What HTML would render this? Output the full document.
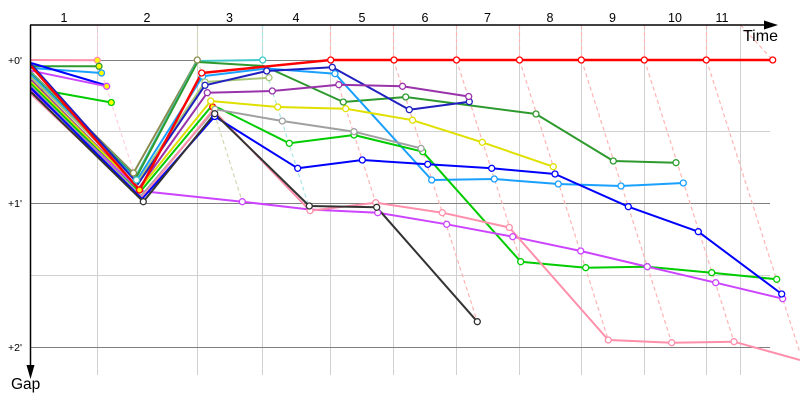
<!DOCTYPE html>
<html><head><meta charset="utf-8"><style>
html,body{margin:0;padding:0;background:#fff;}
svg{display:block;}
text{font-family:"Liberation Sans",sans-serif;}
</style></head><body>
<svg width="800" height="400" viewBox="0 0 800 400" xmlns="http://www.w3.org/2000/svg">
<rect width="800" height="400" fill="#fff"/>
<!-- grid -->
<g stroke="#d0d0d0" stroke-width="1">
<line x1="97.5" y1="25" x2="97.5" y2="375"/>
<line x1="197.5" y1="25" x2="197.5" y2="375"/>
<line x1="262.5" y1="25" x2="262.5" y2="375"/>
<line x1="330.5" y1="25" x2="330.5" y2="375"/>
<line x1="393.5" y1="25" x2="393.5" y2="375"/>
<line x1="456.5" y1="25" x2="456.5" y2="375"/>
<line x1="519.5" y1="25" x2="519.5" y2="375"/>
<line x1="581.5" y1="25" x2="581.5" y2="375"/>
<line x1="644.5" y1="25" x2="644.5" y2="375"/>
<line x1="706.5" y1="25" x2="706.5" y2="375"/>
<line x1="740.5" y1="25" x2="740.5" y2="375"/>
<line x1="30" y1="131.5" x2="770" y2="131.5"/>
<line x1="30" y1="275.5" x2="770" y2="275.5"/>
</g>
<g stroke="#808080" stroke-width="1">
<line x1="30" y1="60.5" x2="770" y2="60.5"/>
<line x1="30" y1="203.5" x2="770" y2="203.5"/>
<line x1="30" y1="347.5" x2="770" y2="347.5"/>
</g>
<!-- dashed lap lines -->
<g fill="none" stroke-width="1.2" stroke-dasharray="4 3">
<polyline stroke="#ffd0dc" points="97.5,25 97.5,60 134,173"/>
<polyline stroke="#d6d6b4" points="197.5,25 197.5,60 242.3,201.7"/>
<polyline stroke="#a8e6e6" points="262.5,25 262.5,60 310,210"/>
<polyline stroke="#ffb4b4" points="330.5,25 330.5,60 375.7,202.7"/>
<polyline stroke="#ffb4b4" points="393.5,25 393.5,60 477.3,321.7"/>
<polyline stroke="#ffb4b4" points="456.5,25 456.5,60 520.7,261.7"/>
<polyline stroke="#ffb4b4" points="519.5,25 519.5,60 608.3,340"/>
<polyline stroke="#ffb4b4" points="581.5,25 581.5,60 671.7,342.7"/>
<polyline stroke="#ffb4b4" points="644.5,25 644.5,60 734,341.7"/>
<polyline stroke="#ffb4b4" points="706.5,25 706.5,60 800,353"/>
<polyline stroke="#ffb4b4" points="740.5,25 772.7,60"/>
</g>
<!-- series -->
<g fill="none" stroke-width="2" stroke-linejoin="round">
<polyline stroke="#ff8fab" points="31,60 97.3,60.3"/>
<polyline stroke="#2e9a2e" points="31,66.3 99,66.3"/>
<polyline stroke="#1aa0ff" points="31,68 101.5,73"/>
<polyline stroke="#0000ff" points="31,63 105,85"/>
<polyline stroke="#cc44ff" points="31,70.7 106.7,86.3"/>
<polyline stroke="#00cc00" points="31,88 111.3,102.5"/>

<polyline stroke="#8c8c50" points="31,72 133.5,173 197.3,60"/>
<polyline stroke="#40c8c8" points="31,73 135.5,177 197.3,61 262.7,60"/>
<polyline stroke="#2e9a2e" points="31,74 136,178 197.5,62 264,66 343.3,102 405.7,97 536,114 613.3,161 676,162.7"/>
<polyline stroke="#1aa0ff" points="31,75 137,180 202.7,76.3 266.7,68.5 335,73.7 431.7,180 494.3,179 558.3,184 621,186 683.3,183"/>
<polyline stroke="#a8c878" points="31,77 137.5,182 205,82 269,77.7"/>
<polyline stroke="#2020c0" points="31,64 138,184 205,85.3 266.7,71 332.3,67.3 409.3,109.7 469.3,101.7"/>
<polyline stroke="#9933aa" points="31,80 139,188 207.3,92.7 272.3,91 338.8,84.7 402.5,86.3 468.7,96.5"/>
<polyline stroke="#e0e000" points="31,82 139.5,189 210.7,101 277.7,107 345.7,108.7 412.5,120.2 482.3,142.3 553.3,166.7"/>
<polyline stroke="#00cc00" points="31,84 140,192 212.5,105 289.3,143.3 354,135 422.7,151.7 520.7,261.7 585.7,267.7 647.3,266.7 711.7,272.7 776.7,279.3"/>
<polyline stroke="#cc44ff" points="31,90 141,191 242.3,201.7 309.5,209.5 377.7,212.7 446.7,224.3 512.7,236.7 580.7,251 647.3,266.7 715.7,282.7 782.7,298.7"/>
<polyline stroke="#a0a0a0" points="31,86 141,196 215,109.3 282.3,121 354,131.7 421,148.3"/>
<polyline stroke="#ff8fab" points="31,94 141.5,198 213,110 310,210.7 375.7,202.7 442.3,212.7 509.3,227.5 608.3,340 671.7,342.7 734,341.7 800,360"/>
<polyline stroke="#0000ff" points="31,88 142,199 214.7,116.5 297.7,168.3 362.3,160 427.7,164.3 491.7,168.3 555,174 628.3,206.7 698.3,231.7 781.7,294"/>
<polyline stroke="#333333" points="31,92 143.3,201.7 214.7,113.7 309.3,206 376.7,207.3 477.3,321.7"/>
<polyline stroke="#ff0000" stroke-width="2.4" points="31,66 139.5,190 201.7,73 330.7,60 394,60 456.5,60 519.5,60 581.3,60 644.3,60 706.3,60 772.7,60"/>
</g>
<!-- markers -->
<g fill="#ffff00" stroke-width="1.3">
<circle cx="97.3" cy="60.3" r="3" stroke="#ff8fab"/>
<circle cx="99" cy="66.3" r="3" stroke="#2e9a2e"/>
<circle cx="101.5" cy="73" r="3" stroke="#1aa0ff"/>
<circle cx="106.7" cy="86.3" r="3" stroke="#cc44ff"/>
<circle cx="111.3" cy="102.5" r="3" stroke="#00cc00"/>
<circle cx="139.5" cy="190" r="3" stroke="#ff0000"/>
<circle cx="212.7" cy="107" r="3" stroke="#ff0000"/>
</g>
<g fill="#fff" stroke-width="1.3">
<g stroke="#8c8c50"><circle cx="133.5" cy="173" r="3"/><circle cx="197.3" cy="60" r="3"/></g>
<g stroke="#40c8c8"><circle cx="136.5" cy="180" r="3"/><circle cx="262.7" cy="60" r="3"/></g>
<g stroke="#2e9a2e"><circle cx="343.3" cy="102" r="3"/><circle cx="405.7" cy="97" r="3"/><circle cx="536" cy="114" r="3"/><circle cx="613.3" cy="161" r="3"/><circle cx="676" cy="162.7" r="3"/></g>
<g stroke="#1aa0ff"><circle cx="202.7" cy="76.3" r="3"/><circle cx="335" cy="73.7" r="3"/><circle cx="431.7" cy="180" r="3"/><circle cx="494.3" cy="179" r="3"/><circle cx="558.3" cy="184" r="3"/><circle cx="621" cy="186" r="3"/><circle cx="683.3" cy="183" r="3"/></g>
<g stroke="#a8c878"><circle cx="205" cy="82" r="3"/><circle cx="269" cy="77.7" r="3"/></g>
<g stroke="#2020c0"><circle cx="205" cy="85.3" r="3"/><circle cx="266.7" cy="71" r="3"/><circle cx="332.3" cy="67.3" r="3"/><circle cx="409.3" cy="109.7" r="3"/><circle cx="469.3" cy="101.7" r="3"/></g>
<g stroke="#9933aa"><circle cx="207.3" cy="92.7" r="3"/><circle cx="272.3" cy="91" r="3"/><circle cx="338.8" cy="84.7" r="3"/><circle cx="402.5" cy="86.3" r="3"/><circle cx="468.7" cy="96.5" r="3"/></g>
<g stroke="#e0e000"><circle cx="210.7" cy="101" r="3"/><circle cx="277.7" cy="107" r="3"/><circle cx="345.7" cy="108.7" r="3"/><circle cx="412.5" cy="120.2" r="3"/><circle cx="482.3" cy="142.3" r="3"/><circle cx="553.3" cy="166.7" r="3"/></g>
<g stroke="#00cc00"><circle cx="289.3" cy="143.3" r="3"/><circle cx="354" cy="135" r="3"/><circle cx="422.7" cy="151.7" r="3"/><circle cx="520.7" cy="261.7" r="3"/><circle cx="585.7" cy="267.7" r="3"/><circle cx="647.3" cy="266.7" r="3"/><circle cx="711.7" cy="272.7" r="3"/><circle cx="776.7" cy="279.3" r="3"/></g>
<g stroke="#cc44ff"><circle cx="242.3" cy="201.7" r="3"/><circle cx="377.7" cy="212.7" r="3"/><circle cx="446.7" cy="224.3" r="3"/><circle cx="512.7" cy="236.7" r="3"/><circle cx="580.7" cy="251" r="3"/><circle cx="647.3" cy="266.7" r="3"/><circle cx="715.7" cy="282.7" r="3"/><circle cx="782.7" cy="298.7" r="3"/></g>
<g stroke="#a0a0a0"><circle cx="215" cy="109.3" r="3"/><circle cx="282.3" cy="121" r="3"/><circle cx="354" cy="131.7" r="3"/><circle cx="421" cy="148.3" r="3"/></g>
<g stroke="#ff8fab"><circle cx="310" cy="210.7" r="3"/><circle cx="375.7" cy="202.7" r="3"/><circle cx="442.3" cy="212.7" r="3"/><circle cx="509.3" cy="227.5" r="3"/><circle cx="608.3" cy="340" r="3"/><circle cx="671.7" cy="342.7" r="3"/><circle cx="734" cy="341.7" r="3"/></g>
<g stroke="#0000ff"><circle cx="214.7" cy="116.5" r="3"/><circle cx="297.7" cy="168.3" r="3"/><circle cx="362.3" cy="160" r="3"/><circle cx="427.7" cy="164.3" r="3"/><circle cx="491.7" cy="168.3" r="3"/><circle cx="555" cy="174" r="3"/><circle cx="628.3" cy="206.7" r="3"/><circle cx="698.3" cy="231.7" r="3"/><circle cx="781.7" cy="294" r="3"/></g>
<g stroke="#333333"><circle cx="143.3" cy="201.7" r="3"/><circle cx="214.7" cy="113.7" r="3"/><circle cx="309.3" cy="206" r="3"/><circle cx="376.7" cy="207.3" r="3"/><circle cx="477.3" cy="321.7" r="3"/></g>
<g stroke="#ff0000"><circle cx="201.7" cy="73" r="3"/><circle cx="330.7" cy="60" r="3"/><circle cx="394" cy="60" r="3"/><circle cx="456.5" cy="60" r="3"/><circle cx="519.5" cy="60" r="3"/><circle cx="581.3" cy="60" r="3"/><circle cx="644.3" cy="60" r="3"/><circle cx="706.3" cy="60" r="3"/><circle cx="772.7" cy="60" r="3"/></g>
</g>
<!-- axes -->
<g stroke="#000" stroke-width="1.5">
<line x1="30" y1="25" x2="766" y2="25"/>
<line x1="30.5" y1="25" x2="30.5" y2="367"/>
</g>
<polygon points="764,20.5 778,25 764,29.5" fill="#000"/>
<polygon points="26.5,365 30.5,379 34.5,365" fill="#000"/>
<!-- labels -->
<g font-size="12.5" fill="#000" text-anchor="middle">
<text x="64" y="22">1</text>
<text x="147" y="22">2</text>
<text x="229.5" y="22">3</text>
<text x="296" y="22">4</text>
<text x="362" y="22">5</text>
<text x="425" y="22">6</text>
<text x="487.5" y="22">7</text>
<text x="550" y="22">8</text>
<text x="612.5" y="22">9</text>
<text x="675" y="22">10</text>
<text x="722" y="22">11</text>
</g>
<g font-size="10.5" fill="#000">
<text x="8" y="64">+0'</text>
<text x="8" y="207">+1'</text>
<text x="8" y="351">+2'</text>
</g>
<text x="743" y="41" font-size="16" fill="#000">Time</text>
<text x="11" y="389" font-size="15.5" fill="#000">Gap</text>
</svg>
</body></html>
